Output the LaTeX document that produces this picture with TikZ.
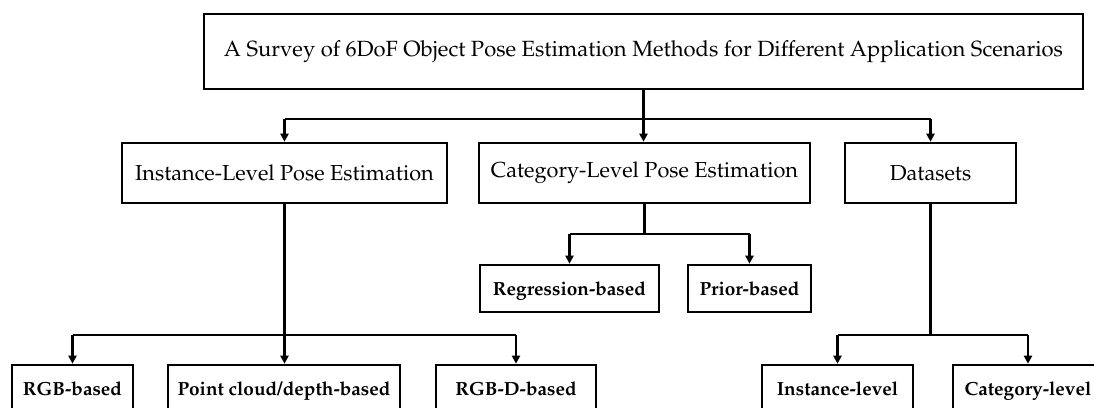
\documentclass[tikz,border=0pt]{standalone}
\usepackage[T1]{fontenc}
\usepackage{mathpazo}
\usetikzlibrary{arrows.meta}
\begin{document}
\begin{tikzpicture}[x=1pt,y=-1pt,
  box/.style={draw,line width=2.6pt,rectangle,inner sep=0pt,anchor=center},
  titlebox/.style={box,font=\fontsize{22}{26}\selectfont},
  lvltwo/.style={box,font=\fontsize{21.7}{26}\selectfont},
  lvlthree/.style={box,font=\fontsize{19}{22}\bfseries\selectfont,text height=13pt,text depth=0pt},
  link/.style={line width=2.6pt},
  arr/.style={link,-{Triangle[length=8pt,width=8pt]}}]
\useasboundingbox (0,0) rectangle (1094,407);
\clip (0,0) rectangle (1094,407);
% title
\node[titlebox,minimum width=879,minimum height=75] (top) at (643.5,51.5)
  {A Survey of 6DoF Object Pose Estimation Methods for Different Application Scenarios};
% second level
\node[lvltwo,minimum width=325,minimum height=60] (inst) at (284.5,173) {Instance-Level Pose Estimation};
\node[lvltwo,minimum width=331,minimum height=60] (cat) at (644.5,173) {Category-Level Pose Estimation};
\node[lvltwo,minimum width=171,minimum height=60] (data) at (930.5,173) {Datasets};
% category branches
\node[lvlthree,minimum width=179,minimum height=47] (reg) at (569.5,288.5) {Regression-based};
\node[lvlthree,minimum width=123,minimum height=47] (prior) at (749.5,288.5) {Prior-based};
% bottom row (runs past the lower edge)
\node[lvlthree,minimum width=121,minimum height=47] (rgb) at (72.5,388.5) {RGB-based};
\node[lvlthree,minimum width=232,minimum height=47] (pc) at (284,388.5) {Point cloud/depth-based};
\node[lvlthree,minimum width=160,minimum height=47] (rgbd) at (516,388.5) {RGB-D-based};
\node[lvlthree,minimum width=151,minimum height=47] (dinst) at (837.5,388.5) {Instance-level};
\node[lvlthree,minimum width=150,minimum height=47] (dcat) at (1028,388.5) {Category-level};
% junction points
\coordinate (j0) at (643.5,119);
\coordinate (j1) at (284.5,335);
\coordinate (j2) at (644.5,234);
\coordinate (j3) at (930.5,335);
% root to second level
\draw[link] (j0 |- top.south) -- (j0);
\draw[link] (inst.center |- j0) -- (data.center |- j0);
\draw[arr] (inst.center |- j0) -- (inst.north);
\draw[arr] (j0) -- (j0 |- cat.north);
\draw[arr] (data.center |- j0) -- (data.north);
% instance-level branches
\draw[link] (inst.south) -- (j1);
\draw[link] (rgb.center |- j1) -- (rgbd.center |- j1);
\draw[arr] (rgb.center |- j1) -- (rgb.north);
\draw[arr] (j1) -- (j1 |- pc.north);
\draw[arr] (rgbd.center |- j1) -- (rgbd.north);
% category-level branches
\draw[link] (cat.south) -- (j2);
\draw[link] (reg.center |- j2) -- (prior.center |- j2);
\draw[arr] (reg.center |- j2) -- (reg.north);
\draw[arr] (prior.center |- j2) -- (prior.north);
% dataset branches
\draw[link] (data.south) -- (j3);
\draw[link] (dinst.center |- j3) -- (dcat.center |- j3);
\draw[arr] (dinst.center |- j3) -- (dinst.north);
\draw[arr] (dcat.center |- j3) -- (dcat.north);
\end{tikzpicture}
\end{document}
